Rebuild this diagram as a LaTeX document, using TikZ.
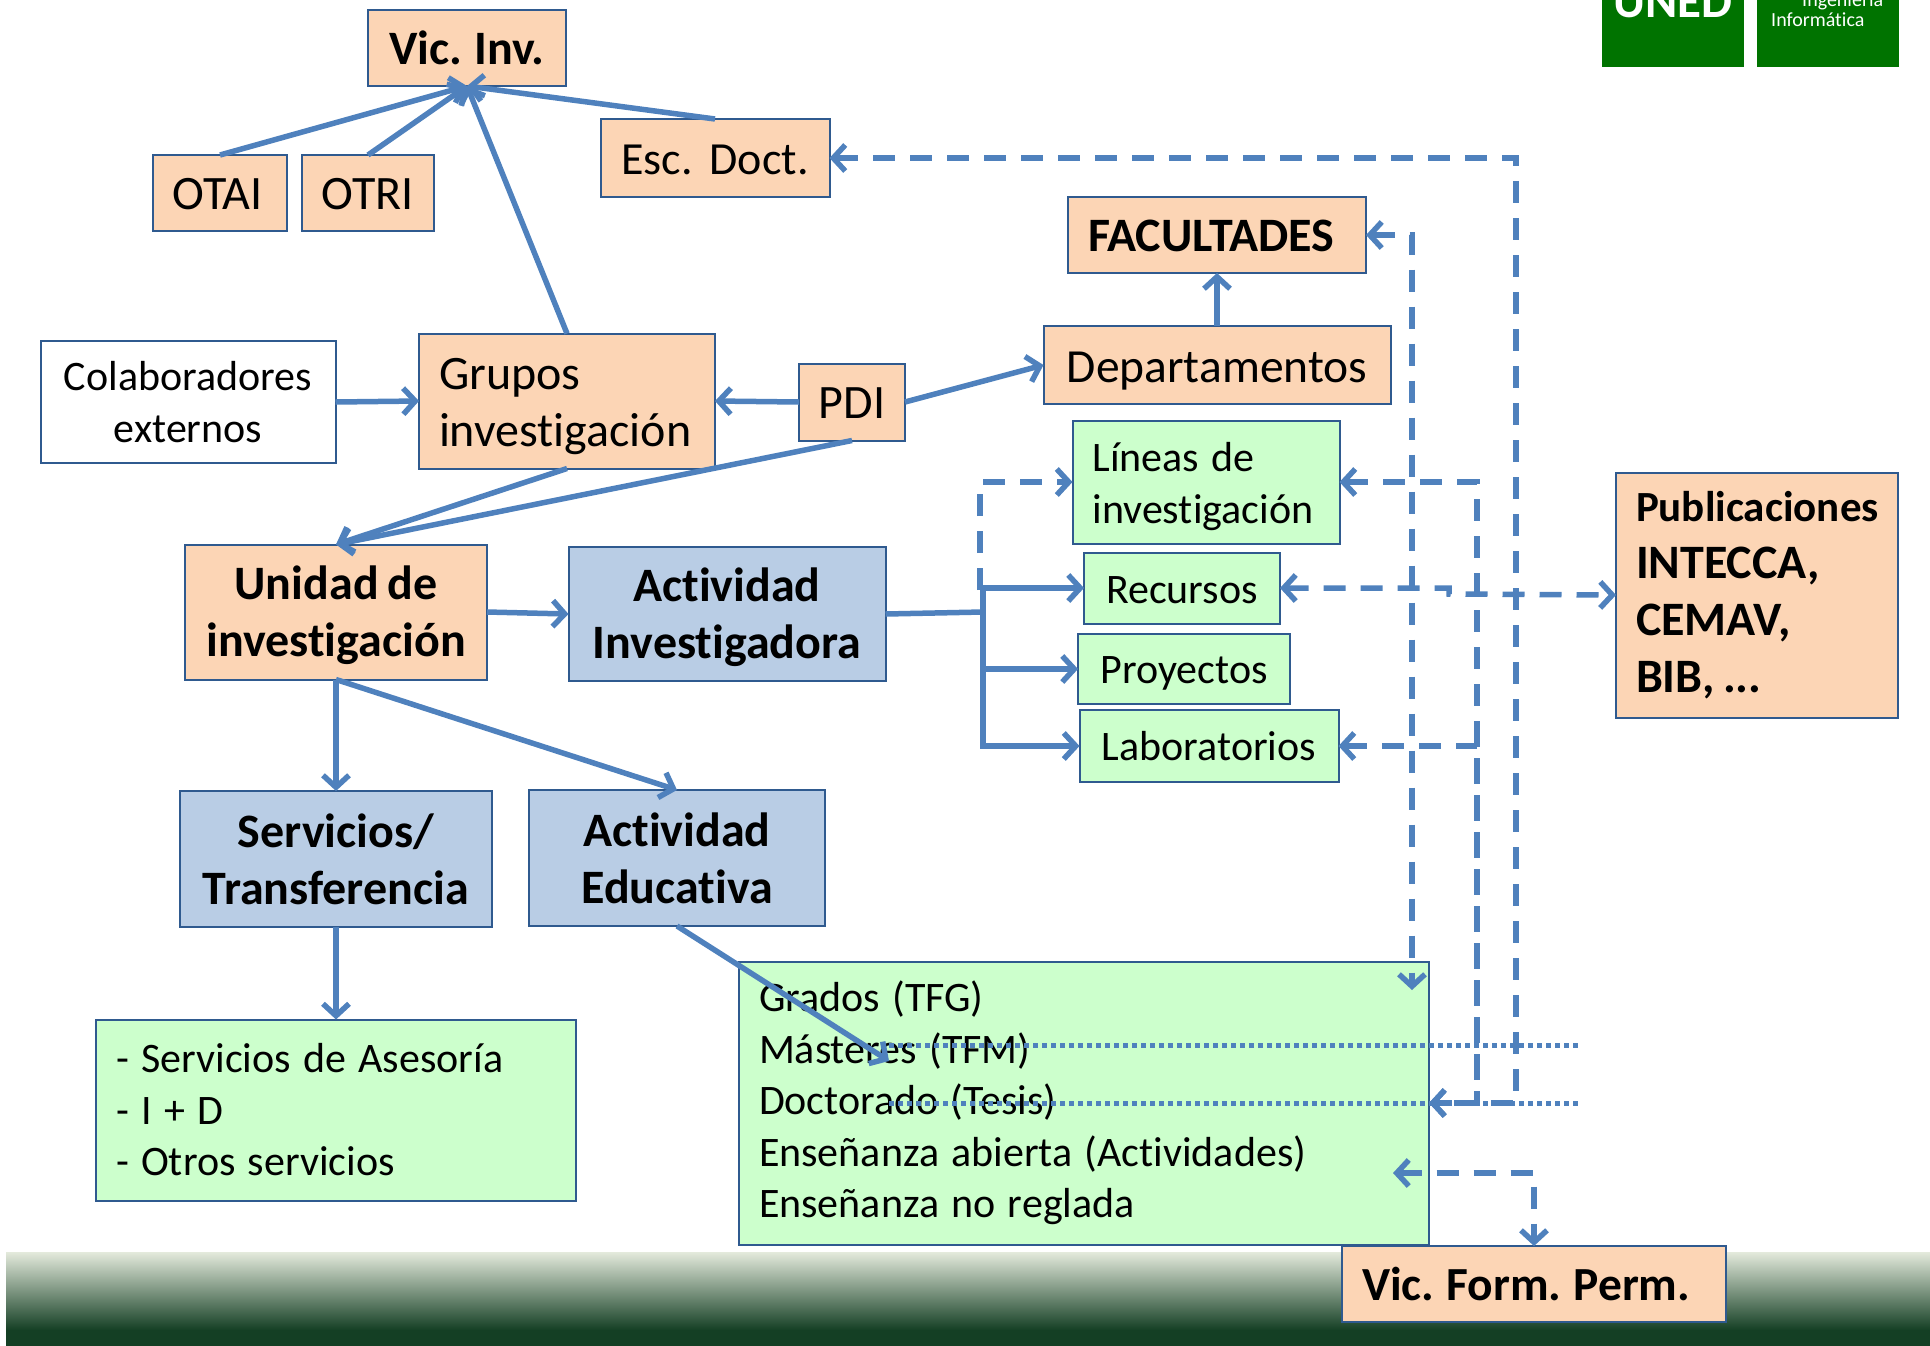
\documentclass[tikz,border=0pt]{standalone}
\usepackage{fontspec}
\setmainfont[Ligatures=NoCommon,WordSpace=1.3,BoldFeatures={WordSpace=0.8}]{Carlito}
\usetikzlibrary{arrows.meta}

\definecolor{melocoton}{HTML}{FCD5B5}
\definecolor{azulcaja}{HTML}{B9CDE5}
\definecolor{verdecaja}{HTML}{CCFFCC}
\definecolor{bordecaja}{HTML}{2F5A8F}
\definecolor{flecha}{HTML}{4F81BD}
\definecolor{verdelogo}{HTML}{007300}
\definecolor{pieoscuro}{HTML}{143F24}
\definecolor{pieclaro}{HTML}{E4EADC}
\pgfdeclareverticalshading{piesombra}{100bp}{color(0bp)=(pieoscuro); color(33bp)=(pieoscuro); color(75bp)=(pieclaro); color(100bp)=(pieclaro)}
\newcommand{\alza}[1]{\rule{0pt}{#1}}

\tikzset{
  caja/.style={draw=bordecaja,line width=2pt,outer sep=0pt,inner sep=0pt,align=center,
    font=\fontsize{48}{57}\selectfont},
  cajapeq/.style={caja,font=\fontsize{42}{51.5}\selectfont},
  cajapeach/.style={caja,fill=melocoton},
  cajaazul/.style={caja,fill=azulcaja,font=\fontsize{48}{57}\selectfont\bfseries},
  cajaverde/.style={cajapeq,fill=verdecaja},
  izq/.style={align=flush left,inner xsep=20pt},
  enlace/.style={draw=flecha,line width=5.5pt,-{Straight Barb[length=12pt,width=26pt]}},
  doble/.style={{Straight Barb[length=12pt,width=26pt]}-{Straight Barb[length=12pt,width=26pt]}},
  vuelta/.style={{Straight Barb[length=12pt,width=26pt]}-},
  enlacedash/.style={enlace,dash pattern=on 22pt off 15pt},
  punteo/.style={draw=flecha,line width=5pt,dash pattern=on 5pt off 4pt},
}

\begin{document}
\begin{tikzpicture}[x=1pt,y=-1pt]
\useasboundingbox (0,0) rectangle (1930,1345);

% Pie
      \shade[shading=piesombra] (6,1252) rectangle (1930,1345);
% Logo
      \fill[verdelogo] (1602,0) rectangle (1744,67);
      \fill[verdelogo] (1757,0) rectangle (1899,67);
      \node[text=white,font=\fontsize{49}{49}\selectfont\bfseries,inner sep=0pt,anchor=base] (logouned) at (1673,17) {UNED};
      \node[text=white,font=\fontsize{20}{20}\selectfont,inner sep=0pt,anchor=base west] (logoing) at (1802,6) {Ingeniería};
      \node[text=white,font=\fontsize{20}{20}\selectfont,inner sep=0pt,anchor=base west] (logoinf) at (1771,26) {Informática};

% Arriba
      \node[cajapeach,font=\fontsize{48}{57}\selectfont\bfseries,minimum width=198pt,minimum height=76pt] (vicinv) at (467,48) {\alza{33pt}Vic. Inv.};
      \node[cajapeach,minimum width=134pt,minimum height=76pt] (otai) at (220,193) {\alza{33pt}OTAI\hspace{5pt}};
      \node[cajapeach,minimum width=132pt,minimum height=76pt] (otri) at (368,193) {\alza{33pt}OTRI};
      \node[cajapeach,font=\fontsize{46}{57}\selectfont,minimum width=229pt,minimum height=78pt] (escdoct) at (715,158) {\alza{33pt}Esc. Doct.};
      \node[cajapeach,izq,inner xsep=20pt,font=\fontsize{48}{57}\selectfont\bfseries,text width=258pt,minimum height=76pt] (facultades) at (1217,235) {\alza{33pt}FACULTADES};
      \node[cajapeach,font=\fontsize{47.5}{57}\selectfont,minimum width=347pt,minimum height=78pt] (departamentos) at (1217,365) {\alza{42pt}Departamentos};
% Grupos
      \node[cajapeq,fill=white,minimum width=295pt,minimum height=122pt] (colaboradores) at (188,402) {Colaboradores\\externos};
      \node[cajapeach,izq,text width=256pt,minimum height=135pt] (grupos) at (567,401) {\alza{42pt}Grupos\\investigación};
      \node[cajapeach,minimum width=106pt,minimum height=77pt] (pdi) at (852,402) {\alza{33pt}PDI};
% Actividad investigadora
      \node[cajapeach,font=\fontsize{48}{57}\selectfont\bfseries,minimum width=302pt,minimum height=135pt] (unidad) at (336,612) {\alza{41pt}Unidad de\\investigación};
      \node[cajaazul,minimum width=317pt,minimum height=134pt] (actinv) at (727,614) {\alza{41pt}Actividad\\Investigadora};
      \node[cajaverde,izq,text width=227pt,minimum height=123pt] (lineas) at (1206,482) {\alza{38pt}Líneas de\\investigación};
      \node[cajaverde,minimum width=196pt,minimum height=71pt] (recursos) at (1182,588) {\alza{32pt}Recursos};
      \node[cajaverde,minimum width=212pt,minimum height=70pt] (proyectos) at (1184,669) {\alza{35pt}Proyectos};
      \node[cajaverde,minimum width=259pt,minimum height=72pt] (laboratorios) at (1209,746) {Laboratorios};
      \node[cajapeach,izq,font=\fontsize{48}{57}\selectfont\bfseries,text width=242pt,minimum height=245pt] (publicaciones) at (1757,595) {{\fontsize{43}{57}\selectfont Publicaciones}\\INTECCA,\\CEMAV,\\BIB, ...};
% Abajo
      \node[cajaazul,minimum width=312pt,minimum height=136pt] (servicios) at (336,859) {Servicios/\\Transferencia};
      \node[cajaazul,minimum width=296pt,minimum height=136pt] (acteduc) at (677,858) {Actividad\\Educativa};
      \node[cajaverde,izq,text width=440pt,minimum height=181pt] (listaserv) at (336,1110) {- Servicios de Asesoría\\- I + D\\- Otros servicios};
      \node[cajaverde,izq,text width=650pt,minimum height=283pt] (grados) at (1084,1103) {Grados (TFG)\\Másteres (TFM)\\Doctorado (Tesis)\\Enseñanza abierta (Actividades)\\Enseñanza no reglada};
      \node[cajapeach,izq,font=\fontsize{47.5}{57}\selectfont\bfseries,text width=344pt,minimum height=76pt] (vicform) at (1534,1284) {Vic. Form. Perm.};

% Puntos libres
      \coordinate (tronco) at (983,612);
      \coordinate (subelin) at (980,590);
      \coordinate (bajadalab) at (1477,1103);
      \coordinate (bajadaesc) at (1516,1103);
      \coordinate (bajadafac) at (1412,990);
      \coordinate (escalon) at (1449,594);
      \coordinate (finedu) at (889,1061);
      \coordinate (abierta) at (1393,1173);
      \coordinate (puntoAa) at (889,1045);
      \coordinate (puntoAb) at (1579,1045);
      \coordinate (puntoBa) at (889,1103);
      \coordinate (puntoBb) at (1579,1103);

% Flechas continuas
      \draw[enlace] (otai.north) -- (vicinv.south);
      \draw[enlace] (otri.north) -- (vicinv.south);
      \draw[enlace] (escdoct.north) -- (vicinv.south);
      \draw[enlace] (grupos.north) -- (vicinv.south);
      \draw[enlace] (colaboradores.east) -- (grupos.west);
      \draw[enlace] (pdi.west) -- (grupos.east);
      \draw[enlace] (pdi.east) -- (departamentos.west);
      \draw[enlace] (departamentos.north) -- (facultades.south);
      \draw[enlace] (grupos.south) -- (unidad.north);
      \draw[enlace] (pdi.south) -- (unidad.north);
      \draw[enlace] (unidad.east) -- (actinv.west);
      \draw[enlace] (unidad.south) -- (servicios.north);
      \draw[enlace] (unidad.south) -- (acteduc.north);
      \draw[enlace] (servicios.south) -- (listaserv.north);
      \draw[enlace] (acteduc.south) -- (finedu);
    %rama
      \draw[draw=flecha,line width=5.5pt] (actinv.east) -- (tronco);
      \draw[enlace] (tronco) |- (recursos.west);
      \draw[enlace] (tronco) |- (proyectos.west);
      \draw[enlace] (tronco) |- (laboratorios.west);

% Flechas discontinuas
      \draw[enlacedash] (subelin) |- (lineas.west);
      \draw[enlacedash,doble] (escdoct.east) -| (bajadaesc) -- (grados.east);
      \draw[enlacedash,doble] (lineas.east) -| (bajadalab) -- (grados.east);
      \draw[enlacedash,vuelta] (laboratorios.east) -| (bajadalab);
      \draw[enlacedash,doble] (facultades.east) -| (bajadafac);
      \draw[enlacedash,doble] (recursos.east) -| (escalon) -- (publicaciones.west);
      \draw[enlacedash,doble] (abierta) -| (vicform.north);

% Punteadas
      \draw[punteo] (puntoAa) -- (puntoAb);
      \draw[punteo] (puntoBa) -- (puntoBb);

\end{tikzpicture}
\end{document}
